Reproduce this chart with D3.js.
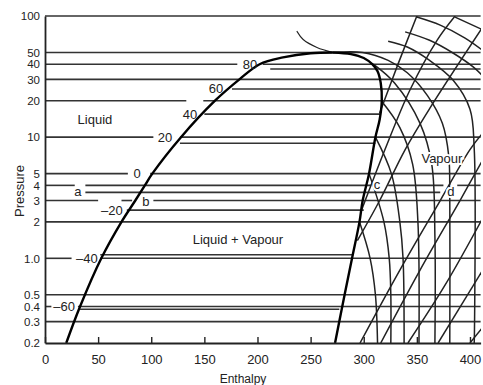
<!DOCTYPE html>
<html>
<head>
<meta charset="utf-8">
<script src="https://cdn.jsdelivr.net/npm/d3@7"></script>
<style>
  body { margin: 0; background: #fff; }
  text { font-family: "Liberation Sans", Arial, sans-serif; fill: #222; }
</style>
</head>
<body>
<div id="chart"></div>
<script>
// axis ticks
const xTicks = [0, 50, 100, 150, 200, 250, 300, 350, 400];
const yTicks = [0.2, 0.3, 0.4, 0.5, 1, 2, 3, 4, 5, 10, 20, 30, 40, 50, 100];
const yTickLabels = ["0.2", "0.3", "0.4", "0.5", "1.0", "2", "3", "4", "5", "10", "20", "30", "40", "50", "100"];

// constant pressure lines: [pressure, [[hStart, hEnd], ...]]
const isobars = [
  [100, [[0, 410]]],
  [50, [[0, 410]]],
  [40, [[0, 181], [205, 410]]],
  [36.5, [[212, 410]]],
  [30, [[0, 410]]],
  [25, [[176, 410]]],
  [20, [[0, 133], [149, 410]]],
  [15.5, [[150, 316]]],
  [10, [[0, 102], [127, 410]]],
  [8.9, [[127, 311]]],
  [5, [[0, 78], [99, 410]]],
  [4, [[0, 28], [38, 307], [323, 375], [388, 410]]],
  [3.5, [[38, 372]]],
  [3, [[0, 50], [72, 82], [102, 410]]],
  [2.5, [[77, 300]]],
  [2, [[0, 410]]],
  [1.07, [[52, 290]]],
  [1, [[0, 25], [52, 410]]],
  [0.5, [[0, 410]]],
  [0.4, [[0, 6], [31, 410]]],
  [0.38, [[33, 277]]],
  [0.3, [[0, 410]]]
];

// saturation dome [h, p]
const liquidLine = [[20, 0.2], [33, 0.4], [53, 1], [72, 2], [85, 3], [94, 4], [101, 5], [128, 10],
  [160, 20], [183, 30], [202, 40], [224, 45.5], [250, 49.3], [271, 50]];
const vapourLine = [[271, 50], [288, 48.5], [300, 45], [308, 40], [313, 35], [316, 28], [317, 20],
  [315, 14], [311, 10], [305, 5], [299, 3], [296, 2], [289, 1], [282, 0.5], [273, 0.2]];

// isotherms in the vapour region
const criticalArc = [[237, 75], [243, 64], [256, 55], [271, 50]];
const isotherms = [
  [[296, 2], [306, 1], [311, 0.5], [313, 0.2]],
  [[305, 5], [319, 2], [324, 1], [325.5, 0.5], [325.5, 0.2]],
  [[311, 10], [326, 5], [334, 2], [337, 1], [338, 0.2]],
  [[316.5, 20], [334, 12], [346, 6], [351, 2], [352, 0.2]],
  [[309, 40], [329, 28], [353, 13], [364, 6], [367, 1.5], [367, 0.2]],
  [[271, 50], [299, 50], [323, 43], [341, 34], [360, 22], [374, 13], [380, 7], [381, 3], [381, 0.2]],
  [[323, 62], [341, 55.5], [362, 43], [384, 29.6], [400, 17], [404, 8], [404, 0.2]],
  [[339, 74], [362, 63], [384, 49.5], [403, 38], [412, 32]],
  [[350, 98], [372, 84], [395, 66], [412, 52]],
  [[386, 98], [412, 77]]
];

// isentropes
const isentropes = [
  [[315, 15.8], [332, 39.5], [350, 100]],
  [[298, 2.5], [320, 7.9], [343.5, 24.5], [369, 63], [386, 100]],
  [[294, 1.4], [315, 3], [339, 7.9], [362, 17.2], [412, 81]],
  [[296.5, 0.2], [334, 0.8], [372, 3], [400, 7.9], [412, 10.8]],
  [[316, 0.2], [353, 0.8], [390.6, 3], [412, 6.5]],
  [[341.6, 0.2], [376.5, 0.6], [412, 2.15]],
  [[370, 0.2], [412, 0.8]],
  [[400, 0.2], [412, 0.27]]
];

const tempLabels = [["80", 193, 40], ["60", 161, 25], ["40", 136.5, 15.5], ["20", 113, 10],
  ["0", 86.6, 5], ["–20", 63, 2.5], ["–40", 39.5, 1], ["–60", 18, 0.4]];
const regionLabels = [["Liquid", 47, 13.9], ["Liquid + Vapour", 181.6, 1.42], ["Vapour", 373.6, 6.7]];
const pointLabels = [["a", 31, 3.53], ["b", 95, 2.92], ["c", 312.5, 4.03], ["d", 382, 3.53]];

const width = 483, height = 385;

const svg = d3.select("#chart").append("svg")
  .attr("width", width)
  .attr("height", height);

const x = d3.scaleLinear().domain([0, 410]).range([45, 480.6]);
const y = d3.scaleLog().domain([0.2, 100]).range([343, 16]);

svg.append("defs").append("clipPath").attr("id", "plot")
  .append("rect")
  .attr("x", 45).attr("y", 16)
  .attr("width", 436).attr("height", 327);

const line = d3.line()
  .x(d => x(d[0]))
  .y(d => y(d[1]))
  .curve(d3.curveCatmullRom.alpha(0.5));

// isobars
const bars = svg.append("g").attr("stroke", "#333").attr("stroke-width", 1.6);
isobars.forEach(([p, segs]) => {
  segs.forEach(s => {
    bars.append("line")
      .attr("x1", x(s[0])).attr("x2", x(s[1]))
      .attr("y1", y(p)).attr("y2", y(p));
  });
});

// vapour region curves
const vap = svg.append("g")
  .attr("clip-path", "url(#plot)")
  .attr("fill", "none")
  .attr("stroke", "#222")
  .attr("stroke-width", 1.5);

isotherms.forEach(c => vap.append("path").attr("d", line(c)));
isentropes.forEach(c => vap.append("path").attr("d", line(c)));
vap.append("path").attr("d", line(criticalArc)).attr("stroke-width", 1.1);

// dome
svg.append("path")
  .attr("d", line(liquidLine))
  .attr("fill", "none").attr("stroke", "#000").attr("stroke-width", 2.4);
svg.append("path")
  .attr("d", line(vapourLine))
  .attr("fill", "none").attr("stroke", "#000").attr("stroke-width", 2.4);

// axes
const xAxis = svg.append("g")
  .attr("transform", "translate(0,343)")
  .call(d3.axisBottom(x).tickValues(xTicks).tickSizeInner(-6).tickSizeOuter(0).tickPadding(12));
xAxis.select(".domain").attr("stroke", "#222").attr("stroke-width", 1.8);
xAxis.selectAll(".tick line").attr("stroke", "#222").attr("stroke-width", 1.4);
xAxis.selectAll("text").attr("font-size", 13).attr("fill", "#222")
  .attr("font-family", "Liberation Sans, Arial, sans-serif");

const yAxis = svg.append("g")
  .attr("transform", "translate(45,0)")
  .call(d3.axisLeft(y).tickValues(yTicks).tickSize(0).tickPadding(5)
    .tickFormat((d, i) => yTickLabels[i]));
yAxis.select(".domain").attr("stroke", "#222").attr("stroke-width", 1.8);
yAxis.selectAll("text").attr("font-size", 11.5).attr("fill", "#222")
  .attr("font-family", "Liberation Sans, Arial, sans-serif");

// labels
const labels = svg.append("g")
  .attr("font-size", 13)
  .attr("text-anchor", "middle")
  .attr("dominant-baseline", "central");

tempLabels.forEach(([t, h, p]) => {
  labels.append("text").attr("x", x(h)).attr("y", y(p)).text(t);
});
regionLabels.forEach(([t, h, p]) => {
  labels.append("text").attr("x", x(h)).attr("y", y(p))
    .attr("stroke", "#fff").attr("stroke-width", 4).attr("paint-order", "stroke")
    .text(t);
});
pointLabels.forEach(([t, h, p]) => {
  labels.append("text").attr("x", x(h)).attr("y", y(p))
    .attr("stroke", "#fff").attr("stroke-width", 4).attr("paint-order", "stroke")
    .text(t);
});

svg.append("text")
  .attr("transform", "translate(19,191) rotate(-90)")
  .attr("text-anchor", "middle")
  .attr("dominant-baseline", "central")
  .attr("font-size", 13)
  .text("Pressure");

svg.append("text")
  .attr("x", 243).attr("y", 383)
  .attr("text-anchor", "middle")
  .attr("font-size", 12)
  .text("Enthalpy");
</script>
</body>
</html>
